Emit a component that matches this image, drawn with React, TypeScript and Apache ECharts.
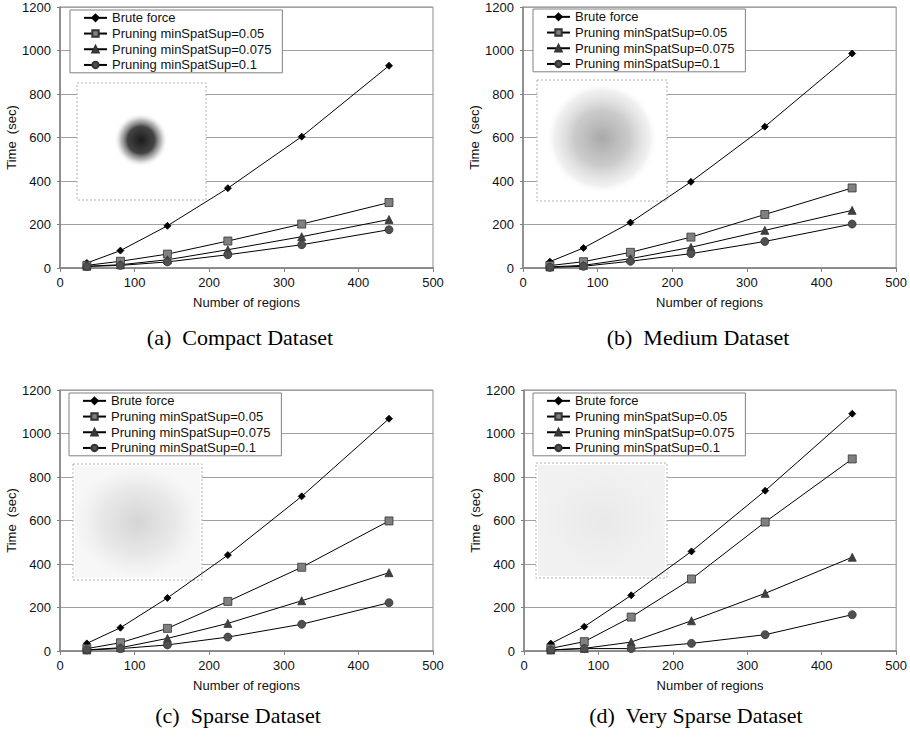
import React, { useEffect, useRef } from "react";
import * as echarts from "echarts";

const regions = [36, 81, 144, 225, 324, 441];
const seriesNames = [
  "Brute force",
  "Pruning minSpatSup=0.05",
  "Pruning minSpatSup=0.075",
  "Pruning minSpatSup=0.1",
];
const xTicks = [0, 100, 200, 300, 400, 500];
const yTicks = [0, 200, 400, 600, 800, 1000, 1200];

// (a) Compact
const compactBrute = [23, 80, 194, 367, 604, 930];
const compact005 = [12, 31, 64, 124, 202, 301];
const compact0075 = [8, 15, 38, 84, 144, 223];
const compact01 = [7, 12, 28, 61, 107, 176];
// (b) Medium
const mediumBrute = [29, 92, 209, 396, 650, 986];
const medium005 = [11, 29, 72, 142, 246, 368];
const medium0075 = [5, 12, 43, 95, 173, 265];
const medium01 = [3, 8, 31, 66, 122, 202];
// (c) Sparse
const sparseBrute = [35, 107, 244, 441, 711, 1068];
const sparse005 = [11, 38, 104, 228, 385, 598];
const sparse0075 = [5, 15, 58, 127, 231, 360];
const sparse01 = [5, 11, 28, 64, 123, 222];
// (d) Very sparse
const vsparseBrute = [34, 112, 256, 458, 737, 1091];
const vsparse005 = [12, 43, 156, 331, 593, 883];
const vsparse0075 = [5, 12, 41, 139, 265, 431];
const vsparse01 = [5, 11, 11, 35, 75, 167];

const panels = [
  { caption: "(a)  Compact Dataset", data: [compactBrute, compact005, compact0075, compact01] },
  { caption: "(b)  Medium Dataset", data: [mediumBrute, medium005, medium0075, medium01] },
  { caption: "(c)  Sparse Dataset", data: [sparseBrute, sparse005, sparse0075, sparse01] },
  { caption: "(d)  Very Sparse Dataset", data: [vsparseBrute, vsparse005, vsparse0075, vsparse01] },
];

const grids = [
  { left: 60, top: 7, width: 373, height: 261 },
  { left: 523, top: 7, width: 375, height: 261 },
  { left: 60, top: 390, width: 373, height: 261 },
  { left: 524, top: 390, width: 374, height: 261 },
];
const legendPos = [
  { left: 70, top: 10 },
  { left: 533, top: 9 },
  { left: 69, top: 393 },
  { left: 533, top: 393 },
];
const insets = [
  { x: 77, y: 83, w: 129, h: 117 },
  { x: 537, y: 80, w: 130, h: 121 },
  { x: 73, y: 464, w: 129, h: 116 },
  { x: 536, y: 463, w: 131, h: 115 },
];
const captionPos = [
  { x: 240, y: 337 },
  { x: 698, y: 337 },
  { x: 238, y: 715 },
  { x: 696, y: 715 },
];

const symbols = ["diamond", "rect", "triangle", "circle"];
const symbolSizes = [7, 8, 8, 8];
const symbolFill = ["#000", "#808080", "#404040", "#505050"];
const symbolBorder = ["#000", "#333", "#333", "#333"];

const FONT = "Arial, 'Liberation Sans', sans-serif";

export default function App() {
  const ref = useRef<HTMLDivElement>(null);
  useEffect(() => {
    document.body.style.margin = "0";
    const chart = echarts.init(ref.current!, undefined, { renderer: "svg" });

    const series: any[] = [];
    panels.forEach((p, gi) => {
      p.data.forEach((vals, si) => {
        series.push({
          type: "line",
          name: seriesNames[si],
          xAxisIndex: gi,
          yAxisIndex: gi,
          data: regions.map((r, i) => [r, vals[i]]),
          symbol: symbols[si],
          symbolSize: symbolSizes[si],
          showAllSymbol: true,
          lineStyle: { color: "#000", width: 1 },
          itemStyle: { color: symbolFill[si], borderColor: symbolBorder[si], borderWidth: 0.8 },
          z: 3,
        });
      });
    });

    const gradientFor = (gi: number) => {
      const stops = [
        [
          { offset: 0, color: "rgba(15,15,15,0.95)" },
          { offset: 0.5, color: "rgba(35,35,35,0.85)" },
          { offset: 0.75, color: "rgba(110,110,110,0.45)" },
          { offset: 1, color: "rgba(255,255,255,0)" },
        ],
        [
          { offset: 0, color: "rgba(110,110,110,0.6)" },
          { offset: 0.5, color: "rgba(140,140,140,0.45)" },
          { offset: 0.85, color: "rgba(180,180,180,0.2)" },
          { offset: 1, color: "rgba(255,255,255,0)" },
        ],
        [
          { offset: 0, color: "rgba(170,170,170,0.5)" },
          { offset: 0.6, color: "rgba(190,190,190,0.35)" },
          { offset: 1, color: "rgba(215,215,215,0.2)" },
        ],
        [
          { offset: 0, color: "rgba(200,200,200,0.4)" },
          { offset: 1, color: "rgba(210,210,210,0.3)" },
        ],
      ][gi];
      return new echarts.graphic.RadialGradient(0.5, 0.5, 0.5, stops as any);
    };

    const cluster = [
      { cx: 141, cy: 140, r: 27 },
      { cx: 602, cy: 138, r: 56 },
      { cx: 140, cy: 522, r: 85 },
      { cx: 601, cy: 520, r: 90 },
    ];

    const graphic: any[] = [];
    insets.forEach((b, gi) => {
      graphic.push({
        type: "rect",
        z: 1,
        shape: { x: b.x, y: b.y, width: b.w, height: b.h },
        style: { fill: "#fff", stroke: "#b0b0b0", lineWidth: 1, lineDash: [2, 2] },
      });
      const c = cluster[gi];
      if (gi < 2) {
        graphic.push({
          type: "circle",
          z: 1,
          shape: { cx: c.cx, cy: c.cy, r: c.r },
          style: { fill: gradientFor(gi) },
        });
      } else {
        graphic.push({
          type: "rect",
          z: 1,
          shape: { x: b.x + 2, y: b.y + 2, width: b.w - 4, height: b.h - 4 },
          style: { fill: gradientFor(gi) },
        });
      }
    });
    panels.forEach((p, gi) => {
      graphic.push({
        type: "text",
        x: captionPos[gi].x,
        y: captionPos[gi].y,
        style: {
          text: p.caption,
          fill: "#000",
          font: "22px 'Liberation Serif', 'Times New Roman', serif",
          textAlign: "center",
          textVerticalAlign: "middle",
        },
      });
    });

    const option: any = {
      animation: false,
      backgroundColor: "#fff",
      grid: grids.map((g) => ({
        ...g,
        show: true,
        borderColor: "#8a8a8a",
        borderWidth: 1,
        backgroundColor: "transparent",
      })),
      xAxis: grids.map((_, gi) => ({
        type: "value",
        gridIndex: gi,
        min: xTicks[0],
        max: xTicks[xTicks.length - 1],
        interval: 100,
        name: "Number of regions",
        nameLocation: "middle",
        nameGap: 28,
        nameTextStyle: { fontFamily: FONT, fontSize: 13, color: "#111" },
        axisLine: { show: true, lineStyle: { color: "#808080", width: 1.5 } },
        axisTick: { show: true, inside: false, length: 4, lineStyle: { color: "#808080" } },
        axisLabel: { fontFamily: FONT, fontSize: 13, color: "#111", margin: 8, formatter: (v: number) => String(v) },
        splitLine: { show: false },
      })),
      yAxis: grids.map((_, gi) => ({
        type: "value",
        gridIndex: gi,
        min: yTicks[0],
        max: yTicks[yTicks.length - 1],
        interval: 200,
        name: "Time  (sec)",
        nameLocation: "middle",
        nameGap: 35,
        nameTextStyle: { fontFamily: FONT, fontSize: 13, color: "#111" },
        axisLine: { show: true, lineStyle: { color: "#808080", width: 1.5 } },
        axisTick: { show: true, inside: false, length: 3, lineStyle: { color: "#808080" } },
        axisLabel: { fontFamily: FONT, fontSize: 13, color: "#111", margin: 9, formatter: (v: number) => String(v) },
        splitLine: { show: true, lineStyle: { color: "#a0a0a0", width: 1 } },
      })),
      legend: legendPos.map((lp) => ({
        ...lp,
        orient: "vertical",
        data: seriesNames,
        backgroundColor: "#fff",
        borderColor: "#808080",
        borderWidth: 1,
        padding: [0, 11, 0, 13],
        itemWidth: 23,
        itemHeight: 8,
        itemGap: 0,
        selectedMode: false,
        textStyle: { fontFamily: FONT, fontSize: 13, color: "#111", lineHeight: 15.7 },
        z: 5,
      })),
      graphic,
      series,
    };
    chart.setOption(option);
    return () => chart.dispose();
  }, []);
  return (
    <div
      ref={ref}
      style={{ position: "absolute", left: 0, top: 0, width: 910, height: 744 }}
    />
  );
}
